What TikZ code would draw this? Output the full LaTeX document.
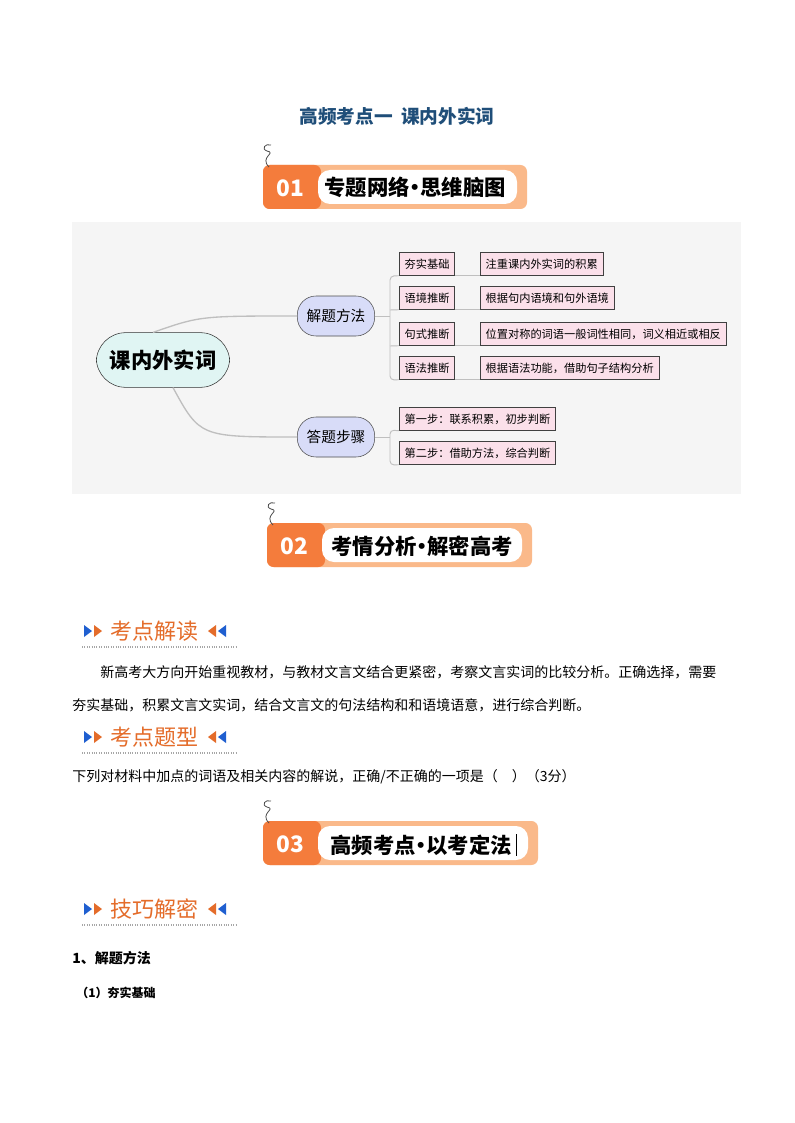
\documentclass[tikz,border=0pt]{standalone}
\usepackage{fontspec}
\setmainfont{Noto Sans CJK SC}
\usetikzlibrary{shapes.geometric}
\definecolor{ban}{HTML}{F47C3C}
\definecolor{banlt}{HTML}{FAB98A}
\definecolor{hdr}{HTML}{E46C2A}
\definecolor{arb}{HTML}{1F5FD0}
\definecolor{ttl}{HTML}{1F4E79}
\definecolor{pinkf}{HTML}{FBE0EA}
\definecolor{lav}{HTML}{D8DCF8}
\definecolor{cyanf}{HTML}{E0F5F3}
\tikzset{
 leaf/.style={draw=black!75,fill=pinkf,line width=0.6pt,minimum height=17pt,inner xsep=4pt,font=\fontsize{8.4}{10}\selectfont,anchor=west},
 mid/.style={draw=black!70,fill=lav,rounded corners=14pt,minimum width=58pt,minimum height=30pt,font=\fontsize{11}{12}\selectfont},
 conn/.style={draw=black!25,line width=1pt},
 body/.style={anchor=west,font=\fontsize{10.5}{12}\selectfont,inner sep=0pt},
 bantext/.style={font=\fontsize{16}{16}\selectfont\bfseries}
}
\newcommand\dotsep{\kern-4pt•\kern-4pt}
\newcommand\mybanner[4]{%
 \fill[banlt,rounded corners=5pt] (#1,#2) rectangle (#3,#2+44);
 \fill[ban,rounded corners=5pt] (#1,#2) rectangle (#1+58,#2+44);
 \fill[white,rounded corners=9pt] (#1+55,#2+5) rectangle (#3-10,#2+39);
 \node[text=white,font=\fontsize{17}{17}\selectfont\bfseries] at (#1+27,#2+23) {0#4};
 \draw[black!70,line width=0.6pt] (#1+6,#2+2) .. controls (#1-4,#2-8) and (#1+14,#2-12) .. (#1+4,#2-14) .. controls (#1-2,#2-16) and (#1+2,#2-22) .. (#1+8,#2-20);
}
\newcommand\myhdr[3]{%
 \fill[arb] (84,#1-6) -- (92,#1) -- (84,#1+6) -- cycle;
 \fill[hdr] (94,#1-6) -- (102,#1) -- (94,#1+6) -- cycle;
 \node[text=hdr,font=\fontsize{16.5}{17}\selectfont,anchor=west] (#3) at (106,#1) {#2};
 \fill[hdr] (216,#1-6) -- (208,#1) -- (216,#1+6) -- cycle;
 \fill[arb] (226,#1-6) -- (218,#1) -- (226,#1+6) -- cycle;
 \draw[black!35,densely dotted,line width=0.8pt] (82,#1+16) -- (236,#1+16);
}
\begin{document}
\begin{tikzpicture}[x=0.75pt,y=-0.75pt]
\useasboundingbox[fill=white] (0,0) rectangle (794,1123);
\node[text=ttl,font=\fontsize{14}{14}\selectfont\bfseries] (title) at (397,116) {高频考点一\ \ 课内外实词};
\mybanner{263}{165}{527}{1}
\node[bantext] (b1) at (415,187) {专题网络\dotsep 思维脑图};
\fill[black!4] (72,222) rectangle (741,494);
\node[draw=black!80,fill=cyanf,rounded corners=22pt,minimum width=100pt,minimum height=41pt,font=\fontsize{16}{16}\selectfont\bfseries] (root) at (163,360) {课内外实词};
\node[mid] (m1) at (336,316) {解题方法};
\node[mid] (m2) at (336,437) {答题步骤};
\draw[conn] (root.north) ++(-10,0) .. controls (200,316) .. (m1.west);
\draw[conn] (root.south) ++(10,0) .. controls (200,437) .. (m2.west);
\node[leaf] (a1) at (399,264) {夯实基础};
\node[leaf] (a2) at (399,298) {语境推断};
\node[leaf] (a3) at (399,334) {句式推断};
\node[leaf] (a4) at (399,368) {语法推断};
\node[leaf] (b1x) at (480,264) {注重课内外实词的积累};
\node[leaf] (b2x) at (480,298) {根据句内语境和句外语境};
\node[leaf] (b3x) at (480,334) {位置对称的词语一般词性相同，词义相近或相反};
\node[leaf] (b4x) at (480,368) {根据语法功能，借助句子结构分析};
\node[leaf] (s1) at (399,419) {第一步：联系积累，初步判断};
\node[leaf] (s2) at (399,453) {第二步：借助方法，综合判断};
\coordinate (j1) at (390,316);
\coordinate (j2) at (390,437);
\draw[conn,line width=0.7pt] (m1.east) -- (j1);
\draw[conn,line width=0.7pt,rounded corners=3pt] (a1.south west) -- (390,276) -- (390,380) -- (a4.south west);
\draw[conn,line width=0.7pt] (390,310) -- (a2.south west) (390,346) -- (a3.south west);
\foreach \p/\q in {a1/b1x,a2/b2x,a3/b3x,a4/b4x} \draw[conn,line width=0.7pt] (\p.south east) -- (\q.south west);
\draw[conn,line width=0.7pt] (m2.east) -- (j2);
\draw[conn,line width=0.7pt,rounded corners=3pt] (s1.south west) -- (390,430) -- (390,465) -- (s2.south west);
\mybanner{267}{523}{532}{2}
\node[bantext] (b2) at (422,546) {考情分析\dotsep 解密高考};
\myhdr{631}{考点解读}{h1}
\node[body] (p1) at (100,672) {新高考大方向开始重视教材，与教材文言文结合更紧密，考察文言实词的比较分析。正确选择，需要};
\node[body] (p2) at (72,705) {夯实基础，积累文言文实词，结合文言文的句法结构和和语境语意，进行综合判断。};
\myhdr{737}{考点题型}{h2}
\node[body] (p3) at (72,777) {下列对材料中加点的词语及相关内容的解说，正确/不正确的一项是（\quad）（3分）};
\mybanner{263}{821}{538}{3}
\node[bantext] (b3) at (421,845) {高频考点\dotsep 以考定法};
\draw[black,line width=0.8pt] (b3.east) ++(0,-11) -- ++(0,22);
\myhdr{909}{技巧解密}{h3}
\node[body,font=\fontsize{10.5}{12}\selectfont\bfseries] (p4) at (72,958) {1、解题方法};
\node[body,font=\fontsize{9}{10}\selectfont\bfseries] (p5) at (76,993) {（1）夯实基础};
\end{tikzpicture}
\end{document}
